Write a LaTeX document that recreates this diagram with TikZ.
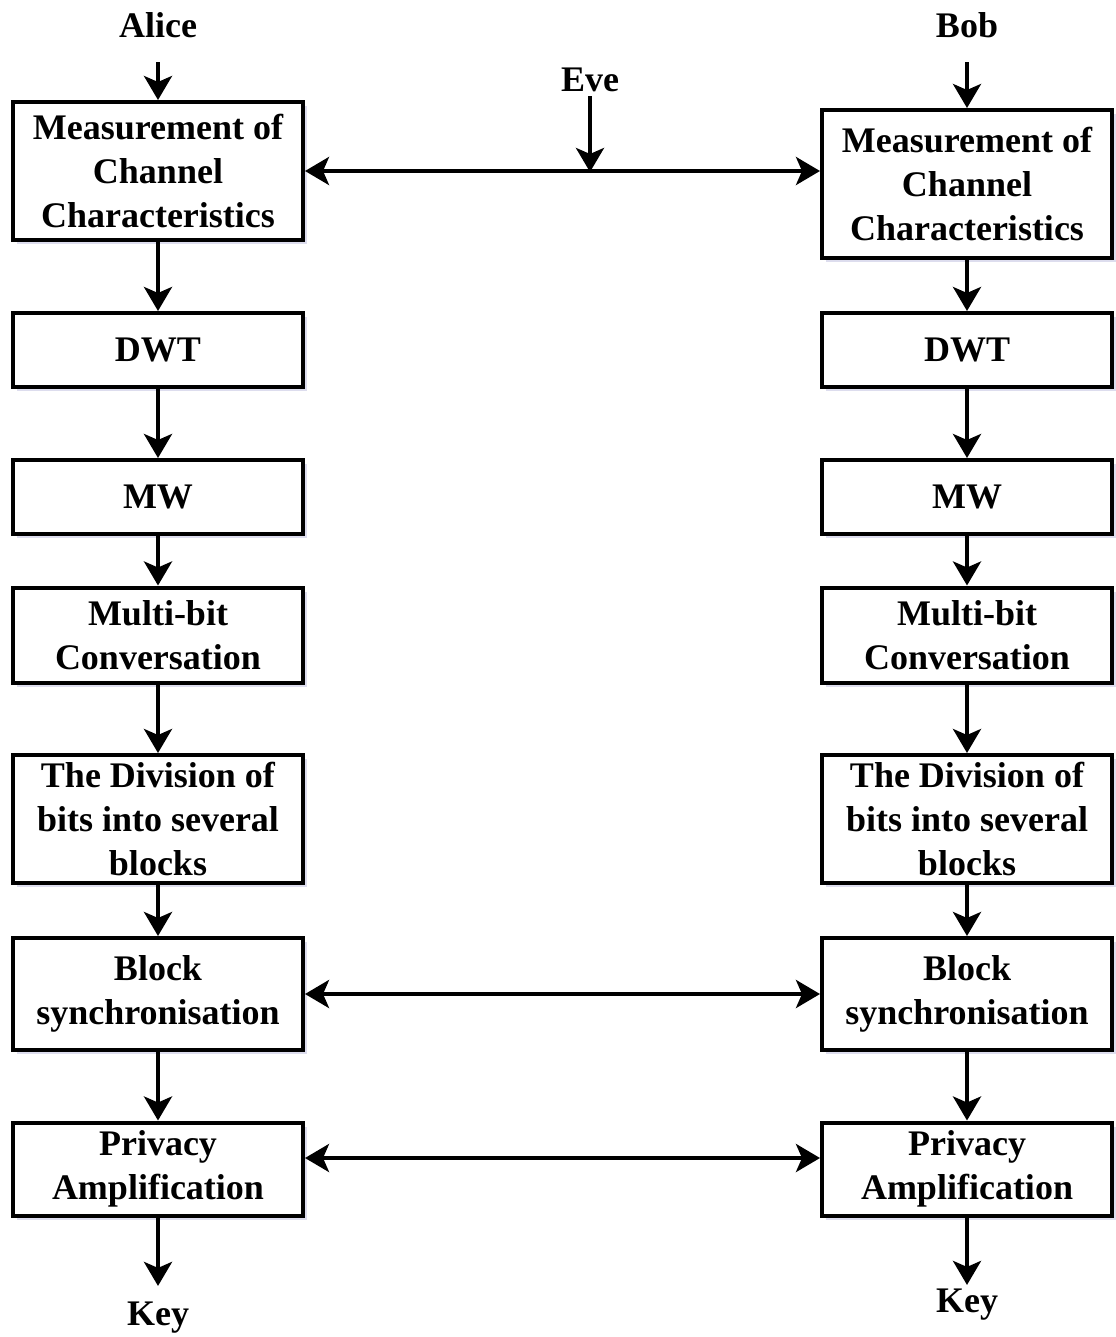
\documentclass[tikz,border=0pt]{standalone}
\usepackage{fontspec}
\setmainfont{Liberation Serif}
\usetikzlibrary{arrows.meta}
\usetikzlibrary{shadows}
\usetikzlibrary{positioning}

\tikzset{
	block/.style={rectangle, draw=black, line width=2pt, fill=white, minimum width=145pt, inner sep=2pt, align=center,
		font=\fontsize{18}{22}\selectfont\bfseries,
		drop shadow={shadow xshift=2pt, shadow yshift=-2pt, opacity=0.2, fill=blue!35!gray}},
	party/.style={font=\fontsize{18}{22}\selectfont\bfseries, inner sep=2pt},
	flow/.style={line width=2pt, -{Stealth[length=12pt, width=14pt, inset=3pt]}},
	both/.style={line width=2pt, {Stealth[length=12pt, width=14pt, inset=3pt]}-{Stealth[length=12pt, width=14pt, inset=3pt]}}
}

\begin{document}
\begin{tikzpicture}[x=0.5pt, y=-0.5pt]
	\useasboundingbox (0,0) rectangle (1115,1337);
	% Alice
	\node[block, minimum height=69pt] (a1) at (158,171) {Measurement of\\Channel\\Characteristics};
	\node[block, minimum height=37pt] (a2) at (158,350) {DWT};
	\node[block, minimum height=37pt] (a3) at (158,497) {MW};
	\node[block, minimum height=47.5pt] (a4) at (158,635) {Multi-bit\\Conversation};
	\node[block, minimum height=64pt] (a5) at (158,819) {The Division of\\bits into several\\blocks};
	\node[block, minimum height=56pt] (a6) at (158,994) {Block\\synchronisation};
	\node[block, minimum height=46.5pt] (a7) at (158,1169) {Privacy\\Amplification};
	% Bob
	\node[block, minimum height=74pt] (b1) at (967,184) {Measurement of\\Channel\\Characteristics};
	\node[block, minimum height=37pt] (b2) at (967,350) {DWT};
	\node[block, minimum height=37pt] (b3) at (967,497) {MW};
	\node[block, minimum height=47.5pt] (b4) at (967,635) {Multi-bit\\Conversation};
	\node[block, minimum height=64pt] (b5) at (967,819) {The Division of\\bits into several\\blocks};
	\node[block, minimum height=56pt] (b6) at (967,994) {Block\\synchronisation};
	\node[block, minimum height=46.5pt] (b7) at (967,1169) {Privacy\\Amplification};
	% labels
	\node[party] (alice) at (158,25) {Alice};
	\node[party] (bob) at (967,25) {Bob};
	\node[party] (eve) at (590,80) {Eve};
	\node[party] (keya) at (158,1318) {Key};
	\node[party] (keyb) at (967,1305) {Key};
	\coordinate (tap) at (590,172);

	\foreach \i/\j in {1/2,2/3,3/4,4/5,5/6,6/7} {
		\draw[flow] (a\i) -- (a\j);
		\draw[flow] (b\i) -- (b\j);
	}
	\draw[flow, shorten <=10pt] (alice) -- (a1);
	\draw[flow, shorten <=10pt] (bob) -- (b1);
	\draw[flow, shorten >=6pt] (a7) -- (keya);
	\draw[flow] (b7) -- (keyb);
	\draw[both] (a1.east) -- (a1.east -| b1.west);
	\draw[flow] (eve) -- (tap);
	\draw[both] (a6) -- (b6);
	\draw[both] ([yshift=5.5pt]a7.east) -- ([yshift=5.5pt]b7.west);
\end{tikzpicture}
\end{document}
